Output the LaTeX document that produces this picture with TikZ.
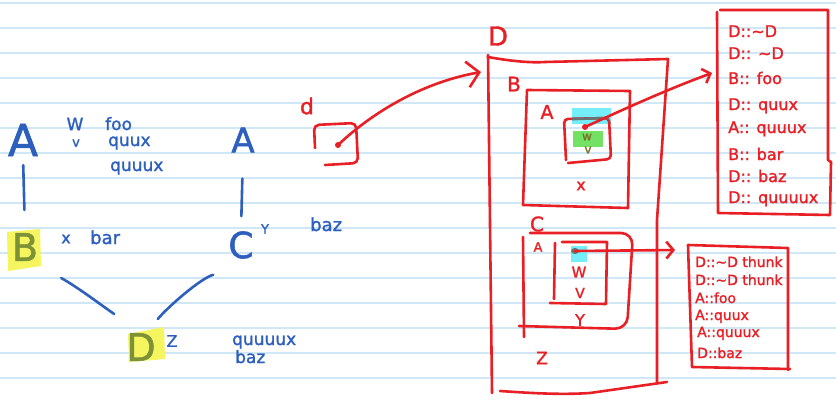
\documentclass[tikz,border=0pt]{standalone}
\usepackage{fontspec}
\setmainfont[FakeBold=1.5]{DejaVu Sans}
\usetikzlibrary{arrows.meta,calc,shapes.geometric}
\definecolor{ink}{RGB}{45,95,190}
\definecolor{pen}{RGB}{232,32,38}
\definecolor{paperrule}{RGB}{208,231,246}
\definecolor{hlyellow}{RGB}{245,245,95}
\definecolor{hlcyan}{RGB}{115,238,250}
\definecolor{hlgreen}{RGB}{115,226,100}
\definecolor{hlolive}{RGB}{125,145,55}
\definecolor{hlbrown}{RGB}{120,115,40}
\definecolor{dotgray}{RGB}{105,115,115}
\newcommand{\fsz}[1]{\fontsize{#1}{#1}\selectfont}
\tikzset{
  bt/.style={text=ink, inner sep=0pt},
  rt/.style={text=pen, inner sep=0pt},
  ot/.style={text=hlolive, inner sep=0pt},
  blueline/.style={draw=ink, line width=2.6pt, line cap=round, line join=round},
  redline/.style={draw=pen, line width=2.6pt, line cap=round, line join=round},
  vtA/.style={rt, anchor=base west, font=\fsz{16}},
  vtB/.style={rt, anchor=base west, font=\fsz{14}},
}
\begin{document}
\begin{tikzpicture}[x=1pt,y=-1pt]
\useasboundingbox (0,0) rectangle (836,402);
\fill[white] (0,0) rectangle (836,402);
% ruled paper
\foreach \k in {0,...,15} \draw[paperrule, line width=1.4pt] (0,{3+25*\k}) -- (836,{3+25*\k});

% ---------- left (blue) hierarchy ----------
\fill[hlyellow] (7,232) -- (40,229) -- (41,266) -- (8,271) -- cycle;
\fill[hlyellow] (128,334) -- (164,327) -- (165,359) -- (129,362) -- cycle;

\node[bt, font=\fsz{44}] (A1) at (23,140) {A};
\node[bt, font=\fsz{17}] (W1) at (75,124) {W};
\node[bt, font=\fsz{13}] (v1) at (76,143) {v};
\node[bt, font=\fsz{17}, anchor=base west] (foo1) at (105,130) {foo};
\node[bt, font=\fsz{17}, anchor=base west] (quux1) at (108,146) {quux};
\node[bt, font=\fsz{17}, anchor=base west] (quuux1) at (110,171) {quuux};

\node[ot, font=\fsz{38}] (B) at (25,247) {B};
\node[bt, font=\fsz{16}] (x1) at (66,239) {x};
\node[bt, font=\fsz{18}, anchor=base west] (bar1) at (90,244) {bar};

\node[bt, font=\fsz{34}] (A2) at (243,140) {A};
\node[bt, font=\fsz{36}] (C) at (241,245) {C};
\node[bt, font=\fsz{13}] (Y1) at (265,229) {Y};
\node[bt, font=\fsz{18}, anchor=base west] (baz1) at (310,231) {baz};

\node[ot, font=\fsz{38}] (D) at (141,347) {D};
\node[bt, font=\fsz{16}] (Z1) at (172,341) {Z};
\node[bt, font=\fsz{17}, anchor=base west] (quuuux1) at (232,345) {quuuux};
\node[bt, font=\fsz{17}, anchor=base west] (baz2) at (235,363) {baz};

\draw[blueline, shorten <=9pt, shorten >=23pt] (A1.south) -- (B.north);
\draw[blueline, shorten <=26pt, shorten >=15pt] (A2.south) -- (C.north);
\draw[blueline] ($(B.south east)+(23,17)$) .. controls +(18,10) and +(-12,-8) .. ($(D.north west)+(-12,-19)$);
\draw[blueline] ($(C.south west)+(-15,16)$) .. controls +(-12,3) and +(10,-12) .. ($(D.north east)+(2,-14)$);

% ---------- object d ----------
\node[rt, font=\fsz{22}] (dlab) at (307,106) {d};
\draw[redline, rounded corners=5pt] (315,148) -- (314,125) -- (356,123) -- (358,163) -- (325,165);
\node[circle, fill=pen, inner sep=0pt, minimum size=6pt] (dotd) at (338,145) {};
\coordinate (Din) at (481,72);
\draw[redline, -{Straight Barb[length=12pt,width=26pt]}] (dotd.center) .. controls (375,110) and (425,82) .. (Din);

% ---------- D object layout ----------
\node[rt, font=\fsz{26}] (Dlab) at (498,36) {D};
\draw[redline] (488,55) -- (492,393);
\draw[redline] (488,57) .. controls (510,61) and (530,63) .. (545,62) -- (668,59) -- (657,220) -- (657,383);
\draw[redline] (500,391) .. controls (530,393) and (560,395) .. (590,393) -- (667,382);

\node[rt, font=\fsz{20}] (Blab) at (514,84) {B};
\draw[redline] (527,90) -- (630,91) -- (628,208) -- (523,205) -- cycle;
\node[rt, font=\fsz{19}] (Alab1) at (547,112) {A};

\fill[hlcyan] (572,108) rectangle (611,124);
\fill[hlgreen] (573,131) rectangle (603,147);
\draw[redline, rounded corners=4pt] (566,160) -- (564,119) -- (609,118) -- (611,159) -- (568,163);
\draw[dotgray, line width=2.6pt] (572,119) -- (609,118);
\node[circle, fill=pen, inner sep=0pt, minimum size=6pt] (dotA) at (585,127) {};
\node[text=hlbrown, inner sep=0pt, font=\fsz{12}] (w2) at (587,137) {w};
\node[text=hlbrown, inner sep=0pt, font=\fsz{12}] (v2) at (588,150) {v};
\node[rt, font=\fsz{16}] (x2) at (581,186) {x};

\coordinate (VT1in) at (712,73);
\draw[redline, -{Straight Barb[length=7pt,width=15pt]}] (dotA.center) .. controls (605,118) and (660,92) .. (VT1in);

\node[rt, font=\fsz{20}] (Clab) at (537,224) {C};
\draw[redline, rounded corners=12pt] (530,233) -- (633,233) -- (627,329) -- (519,326);
\draw[redline] (523,237) -- (524,337);
\node[rt, font=\fsz{13}] (Alab2) at (538,247) {A};
\fill[hlcyan] (571,246) rectangle (587,262);
\draw[redline] (562,242) -- (607,242) -- (606,304) -- (550,303);
\draw[redline] (555,243) -- (554,299);
\node[ellipse, fill=dotgray, inner sep=0pt, minimum width=8pt, minimum height=6pt] (dotC) at (575,251) {};
\node[rt, font=\fsz{15}] (W2) at (579,272) {W};
\node[rt, font=\fsz{14}] (V2) at (580,293) {V};
\node[rt, font=\fsz{16}] (Y2) at (580,320) {Y};
\node[rt, font=\fsz{17}] (Z2) at (542,358) {Z};

\coordinate (VT2in) at (675,250);
\draw[redline, -{Straight Barb[length=7pt,width=17pt]}] (dotC.center) -- (VT2in);

% ---------- vtable 1 ----------
\draw[redline] (720,10) -- (828,10) -- (828,160) -- (831,162) -- (830,215) -- (718,213) -- (717,12);
\node[vtA] (t11) at (728,37) {D::\string~D};
\node[vtA] (t12) at (728,59) {D:: \string~D};
\node[vtA] (t13) at (728,84) {B:: foo};
\node[vtA] (t14) at (728,110) {D:: quux};
\node[vtA] (t15) at (728,133) {A:: quuux};
\node[vtA] (t16) at (728,160) {B:: bar};
\node[vtA] (t17) at (728,182) {D:: baz};
\node[vtA] (t18) at (728,203) {D:: quuuux};

% ---------- vtable 2 ----------
\draw[redline] (688,245) -- (788,248) -- (788,370);
\draw[redline] (688,245) -- (692,367) -- (790,369);
\node[vtB] (t21) at (695,267) {D::\string~D thunk};
\node[vtB] (t22) at (695,285) {D::\string~D thunk};
\node[vtB] (t23) at (695,303) {A::foo};
\node[vtB] (t24) at (695,320) {A::quux};
\node[vtB] (t25) at (697,337) {A::quuux};
\node[vtB] (t26) at (697,358) {D::baz};
\end{tikzpicture}
\end{document}
